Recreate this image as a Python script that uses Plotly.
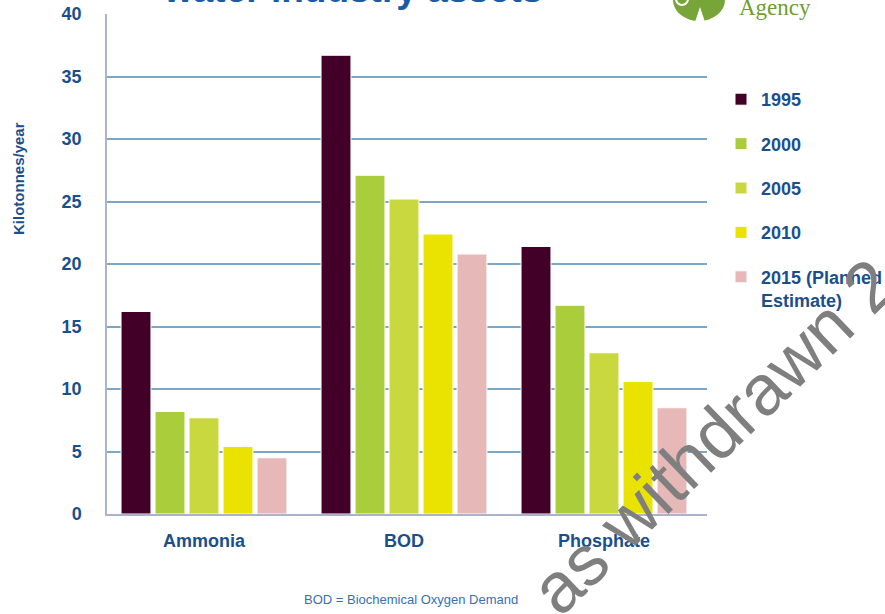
import plotly.graph_objects as go

# Pollutant loads from water industry assets (kilotonnes per year)
pollutants = ["Ammonia", "BOD", "Phosphate"]
years = ["1995", "2000", "2005", "2010", "2015 (Planned<br>Estimate)"]
load_1995 = [16.2, 36.7, 21.4]
load_2000 = [8.2, 27.1, 16.7]
load_2005 = [7.7, 25.2, 12.9]
load_2010 = [5.4, 22.4, 10.6]
load_2015 = [4.5, 20.8, 8.5]
y_ticks = [0, 5, 10, 15, 20, 25, 30, 35, 40]

series = [load_1995, load_2000, load_2005, load_2010, load_2015]
colors = ["#420028", "#AACD3C", "#C8D83E", "#EAE200", "#E6B8B7"]

BLUE = "#1B4F8C"
FONT = "Arial, Liberation Sans, sans-serif"

# plot area in pixels: left 107, right 707, top 14, bottom 514
L, R, T, B = 107, 707, 14, 514


def px(x):
    return (x - L) / (R - L)


def py(y):
    return (B - y) / (B - T)


fig = go.Figure()
for i, (name, vals, col) in enumerate(zip(years, series, colors)):
    fig.add_trace(go.Bar(
        x=pollutants, y=vals, name=name,
        marker=dict(color=col, line=dict(color="white", width=1)),
        legendgroup=f"g{i}",
    ))

fig.update_layout(
    width=885, height=614,
    margin=dict(l=L, r=885 - R, t=T, b=614 - B, autoexpand=False),
    paper_bgcolor="white", plot_bgcolor="white",
    barmode="group", bargap=0.15, bargroupgap=0.12,
    font=dict(family=FONT, color=BLUE),
    showlegend=True,
    legend=dict(
        x=px(721), y=py(81), xanchor="left", yanchor="top",
        font=dict(size=18, color=BLUE, family=FONT, weight="bold"),
        tracegroupgap=18, valign="top", itemwidth=30,
        bgcolor="rgba(0,0,0,0)",
    ),
    xaxis=dict(
        automargin=False, range=[-0.485, 2.515],
        showgrid=False, showline=True, linecolor="#A9B4CC", linewidth=1.5,
        ticks="", tickfont=dict(size=18, color=BLUE, family=FONT, weight="bold"),
        ticklabelstandoff=10,
    ),
    yaxis=dict(
        automargin=False,
        range=[0, 40], tickvals=y_ticks,
        showgrid=True, gridcolor="#7AA6C8", gridwidth=1.5,
        showline=True, linecolor="#A9B4CC", linewidth=1.5,
        zeroline=False, ticks="",
        tickfont=dict(size=18, color=BLUE, family=FONT, weight="bold"),
        ticklabelstandoff=20,
    ),
)

# Axis title
fig.add_annotation(
    xref="paper", yref="paper", x=px(19), y=py(179),
    xanchor="center", yanchor="middle",
    text="Kilotonnes/year", textangle=-90, showarrow=False,
    font=dict(size=15, color=BLUE, family=FONT, weight="bold"),
)

# Slide heading (runs off the top edge)
fig.add_annotation(
    xref="paper", yref="paper", x=px(352), y=py(12), xanchor="center", yanchor="bottom",
    text="water industry assets", showarrow=False,
    font=dict(size=37, color="#1A5AA6", family=FONT, weight="bold"),
)

# Footnote
fig.add_annotation(
    xref="paper", yref="paper", x=px(411), y=py(599), xanchor="center", yanchor="middle",
    text="BOD = Biochemical Oxygen Demand", showarrow=False,
    font=dict(size=13, color="#3A70B0", family=FONT),
)

# Agency logo
fig.add_shape(type="circle", xref="paper", yref="paper",
              x0=px(673), x1=px(725), y0=py(21), y1=py(-21),
              fillcolor="#77A537", line=dict(width=0), layer="above")
fig.add_shape(type="circle", xref="paper", yref="paper",
              x0=px(676), x1=px(688), y0=py(5), y1=py(-7),
              fillcolor="rgba(0,0,0,0)", line=dict(color="white", width=2), layer="above")
fig.add_shape(type="path", xref="paper", yref="paper",
              path="M {a},{b} L {c},{d} L {e},{d} Z".format(
                  a=px(700), b=py(7), c=px(695), e=px(705), d=py(22)),
              fillcolor="white", line=dict(width=0), layer="above")
fig.add_annotation(
    xref="paper", yref="paper", x=px(737), y=py(22),
    xanchor="left", yanchor="bottom", text="Agency", showarrow=False,
    font=dict(size=23, color="#6E9E2E", family="Liberation Serif, Times New Roman, serif"),
)

# Diagonal watermark
fig.add_annotation(
    xref="paper", yref="paper", x=px(713), y=py(436),
    xanchor="center", yanchor="middle", text="as withdrawn 2", textangle=-44,
    showarrow=False,
    font=dict(size=71, color="#7F7F7F", family=FONT),
)

fig.write_html("out.html")
